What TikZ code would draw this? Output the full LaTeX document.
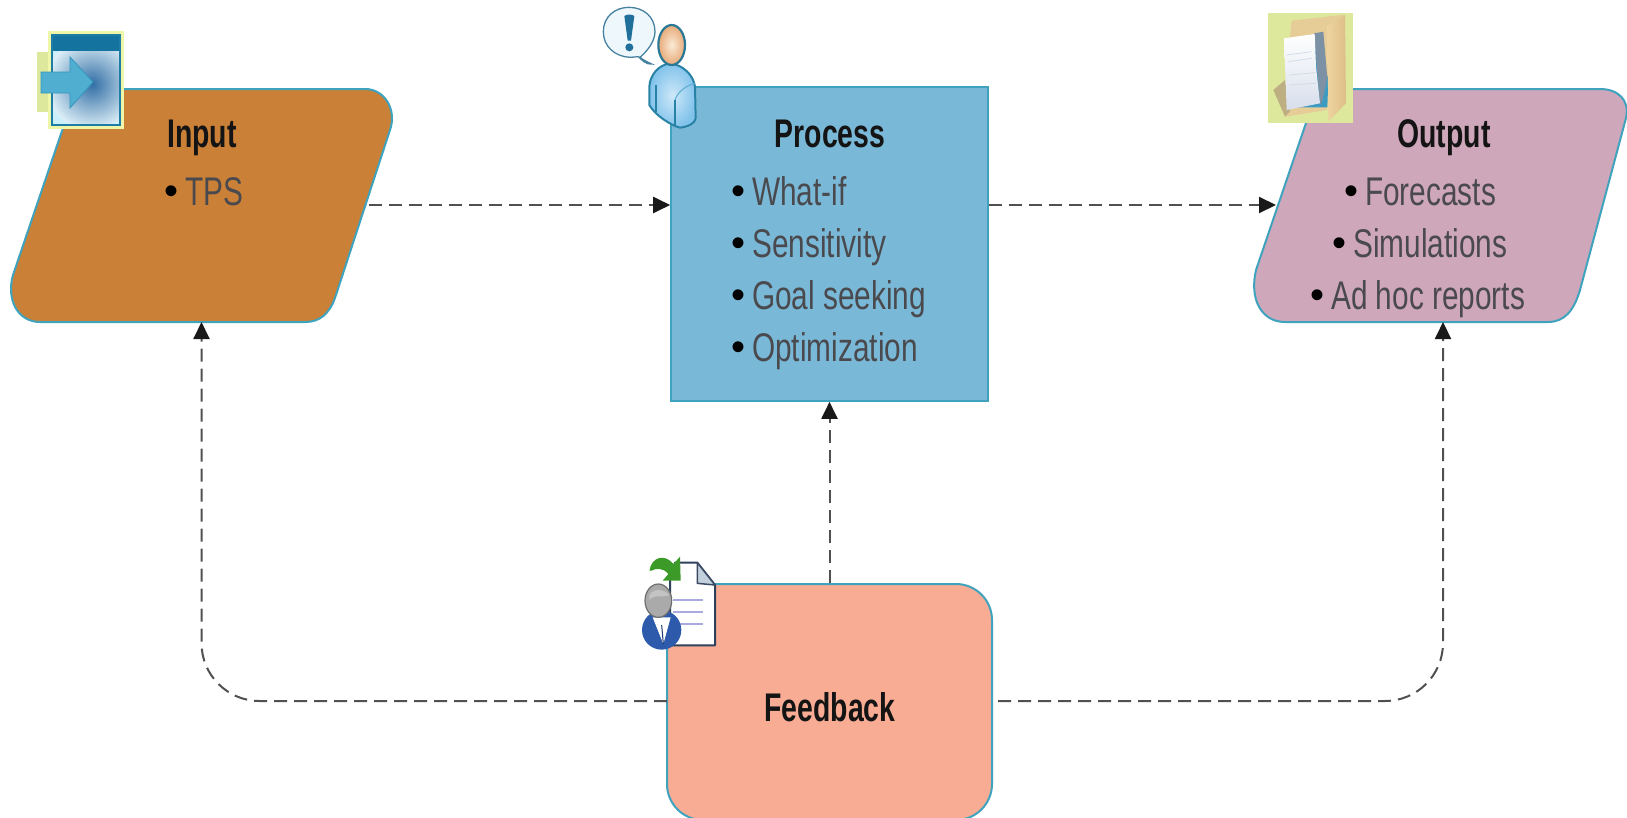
\documentclass[tikz,border=0pt]{standalone}
\usepackage{fontspec}
\setmainfont{Liberation Sans}
\newfontfamily\bodyf[FakeStretch=0.745]{Liberation Sans}
\newfontfamily\headf[FakeStretch=0.71]{Liberation Sans Bold}
\usetikzlibrary{arrows.meta,shadings}
\definecolor{edgeblue}{HTML}{3FA3BE}
\definecolor{inputfill}{HTML}{CB8038}
\definecolor{procfill}{HTML}{7AB8D7}
\definecolor{outfill}{HTML}{CFA7BA}
\definecolor{feedfill}{HTML}{F9AC94}
\definecolor{bodytext}{HTML}{4A4A4E}
\definecolor{headtext}{HTML}{141414}
\definecolor{halo}{HTML}{DDE89C}
\definecolor{halotwo}{HTML}{EFF6A8}
\definecolor{foldertan}{HTML}{E6CD98}
\definecolor{flowcol}{HTML}{505050}
\tikzset{
  shapeedge/.style={draw=edgeblue,line width=2pt},
  headline/.style={font=\headf\fontsize{40}{48}\selectfont,text=headtext,anchor=base,inner sep=0pt},
  item/.style={font=\bodyf\fontsize{40}{48}\selectfont,text=bodytext,anchor=base west,inner sep=0pt},
  flow/.style={draw=flowcol,line width=2pt,dash pattern=on 13pt off 7pt,-{Triangle[length=17pt,width=16pt,color=black!90]}},
}
\newcommand{\bul}{\raisebox{1pt}{\normalfont\fontsize{40}{40}\selectfont\color{black}\textbullet}\hspace{7pt}}
\begin{document}
\begin{tikzpicture}[x=1pt,y=-1pt]
\useasboundingbox (0,0) rectangle (1627,817);
% --- shapes
\path[shapeedge,fill=inputfill] (98,89) -- (365,89) .. controls (385,89) and (397,110) .. (390,130)
  -- (335,298) .. controls (329,314) and (320,322) .. (305,322)
  -- (40,322) .. controls (18,322) and (6,300) .. (13,275) -- (63,128) .. controls (72,102) and (80,89) .. (98,89) -- cycle;
\node[draw=edgeblue,line width=1.6pt,fill=procfill,minimum width=317pt,minimum height=314pt,inner sep=0pt] (process) at (829.5,244) {};
\path[shapeedge,fill=outfill] (1330,89) -- (1600,89) .. controls (1618,89) and (1630,100) .. (1626,118)
  -- (1580,290) .. controls (1574,310) and (1565,322) .. (1548,322)
  -- (1285,322) .. controls (1262,322) and (1249,300) .. (1256,270) -- (1307,120) .. controls (1313,103) and (1318,89) .. (1330,89) -- cycle;
\node[draw=edgeblue,line width=2pt,fill=feedfill,rounded corners=36pt,minimum width=325pt,minimum height=236pt,inner sep=0pt] (feedback) at (829.5,702) {};
% --- anchors on the parallelograms
\coordinate (inR) at (369,205);
\coordinate (inB) at (201.5,322);
\coordinate (outL) at (1276,205);
\coordinate (outB) at (1443,322);
\coordinate (feedL) at (667,701);
\coordinate (feedR) at (998,701);
\coordinate (corL) at (201.5,701);
\coordinate (corR) at (1443,701);
\coordinate (procE) at (process.east|-inR);
\coordinate (procW) at (process.west|-inR);
% --- connectors
\draw[flow] (inR) -- (procW);
\draw[flow] (procE) -- (outL);
\draw[flow] (feedback.north) -- (process.south);
\draw[flow,rounded corners=58pt] (feedL) -- (corL) -- (inB);
\draw[flow,rounded corners=58pt] (feedR) -- (corR) -- (outB);
% --- text
\node[headline] (inh) at (202,147) {Input};
\node[item] (in1) at (164,205) {\bul TPS};
\node[headline] (prh) at (830,147) {Process};
\node[item] (pr1) at (731,205) {\bul What-if};
\node[item] (pr2) at (731,257) {\bul Sensitivity};
\node[item] (pr3) at (731,309) {\bul Goal seeking};
\node[item] (pr4) at (731,361) {\bul Optimization};
\node[headline] (ouh) at (1444,147) {Output};
\node[item] (ou1) at (1344,205) {\bul Forecasts};
\node[item] (ou2) at (1332,257) {\bul Simulations};
\node[item] (ou3) at (1310,309) {\bul Ad hoc reports};
\node[headline] (feh) at (830,721) {Feedback};
% --- icon: input window
\fill[halo] (37,52) rectangle (54,112);
\fill[halotwo] (48,31) rectangle (124,129);
\begin{scope}
\clip (52,35) rectangle (120,125);
\fill[white!80!cyan] (52,51) rectangle (120,125);
\shade[inner color={rgb,255:red,50;green,110;blue,165},outer color={rgb,255:red,222;green,240;blue,248}] (92,84) circle (46);
\end{scope}
\fill[color={rgb,255:red,21;green,115;blue,159}] (52,35) rectangle (120,51);
\draw[color={rgb,255:red,30;green,125;blue,165},line width=1.6pt] (52,35) rectangle (120,125);
\draw[draw={rgb,255:red,50;green,150;blue,190},fill={rgb,255:red,80;green,175;blue,208},line width=.8pt,line join=miter]
  (41,72) -- (70,72) -- (70,57) -- (93,82) -- (70,108) -- (70,93) -- (41,93) -- cycle;
% --- icon: person with bubble
\begin{scope}[shift={(580,0)},x=1/3*1pt,y=-1/3*1pt]
\draw[draw={rgb,255:red,70;green,130;blue,160},fill={rgb,255:red,238;green,247;blue,251},line width=1.3pt]
  (180,172) .. controls (200,155) and (225,125) .. (225,95) .. controls (225,50) and (190,22) .. (147,22)
  .. controls (105,22) and (70,50) .. (70,95) .. controls (70,140) and (105,170) .. (150,172)
  .. controls (160,172) and (170,170) .. (175,170) .. controls (185,180) and (200,195) .. (215,192) .. controls (200,185) and (190,180) .. (180,172) -- cycle;
\fill[color={rgb,255:red,32;green,112;blue,155}] (133,48) .. controls (140,42) and (156,42) .. (163,48) -- (153,122) -- (143,122) -- cycle;
\fill[color={rgb,255:red,32;green,112;blue,155}] (148,142) circle (12);
\shade[draw={rgb,255:red,40;green,130;blue,165},line width=2pt,inner color={rgb,255:red,205;green,232;blue,248},outer color={rgb,255:red,130;green,195;blue,235}]
  (270,190) .. controls (235,195) and (210,225) .. (208,260) -- (208,315) .. controls (225,345) and (270,375) .. (300,383)
  .. controls (325,380) and (345,370) .. (347,355) -- (345,260) .. controls (340,225) and (310,195) .. (270,190) -- cycle;
\draw[color={rgb,255:red,40;green,130;blue,165},line width=1.3pt] (228,255) -- (228,335);
\draw[color={rgb,255:red,40;green,130;blue,165},line width=1.3pt] (285,300) -- (285,375);
\draw[color={rgb,255:red,90;green,170;blue,210},line width=1pt] (285,300) .. controls (295,270) and (325,255) .. (345,250);
\shade[draw={rgb,255:red,40;green,120;blue,150},line width=2.2pt,inner color={rgb,255:red,250;green,235;blue,215},outer color={rgb,255:red,232;green,170;blue,120}]
  (275,135) ellipse [x radius=40,y radius=60];
\end{scope}
% --- icon: folder
\begin{scope}[shift={(1240,0)},x=1/3*1pt,y=-1/3*1pt]
\fill[halo] (85,38) rectangle (340,370);
\fill[foldertan] (155,62) -- (312,44) -- (270,110) -- (262,330) -- (135,350) -- (150,110) -- cycle;
\fill[color={rgb,255:red,190;green,175;blue,130}] (100,270) -- (135,240) -- (150,335) -- (135,350) -- cycle;
\fill[color={rgb,255:red,60;green,155;blue,195}] (215,110) -- (265,235) -- (262,322) -- (150,322) -- (140,250) -- cycle;
\fill[color={rgb,255:red,125;green,145;blue,165}] (222,100) -- (250,95) -- (262,235) -- (248,300) -- (240,315) -- cycle;
\shade[top color=white,bottom color={rgb,255:red,215;green,222;blue,235}] (132,115) -- (224,102) -- (228,200) -- (240,310) -- (140,330) -- cycle;
\draw[color={rgb,255:red,210;green,220;blue,230},line width=.8pt] (140,165) -- (215,155) (145,185) -- (215,175) (148,225) -- (225,218) (148,255) -- (228,250);
\shade[left color={rgb,255:red,238;green,212;blue,160},right color={rgb,255:red,222;green,190;blue,135}] (262,78) -- (315,45) -- (318,310) -- (265,365) -- cycle;
\end{scope}
% --- icon: feedback document
\begin{scope}[shift={(620,540)},x=1/3*1pt,y=-1/3*1pt]
\draw[draw={rgb,255:red,45;green,65;blue,90},fill=white,line width=2pt,line join=round]
  (165,68) -- (232,68) -- (285,135) -- (285,316) -- (150,316) -- (150,120) -- cycle;
\draw[draw={rgb,255:red,60;green,75;blue,100},fill={rgb,255:red,195;green,208;blue,222},line width=1.5pt,line join=round]
  (232,68) -- (232,130) -- (285,135) -- cycle;
\draw[color={rgb,255:red,170;green,170;blue,225},line width=2.2pt] (160,180) -- (250,180) (160,215) -- (250,215) (160,252) -- (250,252);
\fill[color={rgb,255:red,45;green,90;blue,170}] (125,270) circle (59);
\fill[white] (98,232) -- (152,232) -- (130,312) -- cycle;
\draw[color={rgb,255:red,25;green,55;blue,110},line width=1pt] (125,255) -- (130,312);
\draw[draw={rgb,255:red,110;green,110;blue,110},fill={rgb,255:red,170;green,170;blue,170},line width=1.2pt] (115,182) ellipse [x radius=40,y radius=50];
\fill[color={rgb,255:red,195;green,195;blue,195}] (88,165) .. controls (100,145) and (130,145) .. (148,165) .. controls (125,175) and (105,160) .. (88,180) -- cycle;
\fill[color={rgb,255:red,60;green,155;blue,40}] (88,92) .. controls (95,50) and (135,40) .. (160,72) -- (180,50) -- (182,122) -- (128,122) -- (145,102) .. controls (130,82) and (105,85) .. (95,92) -- cycle;
\end{scope}
\end{tikzpicture}
\end{document}
